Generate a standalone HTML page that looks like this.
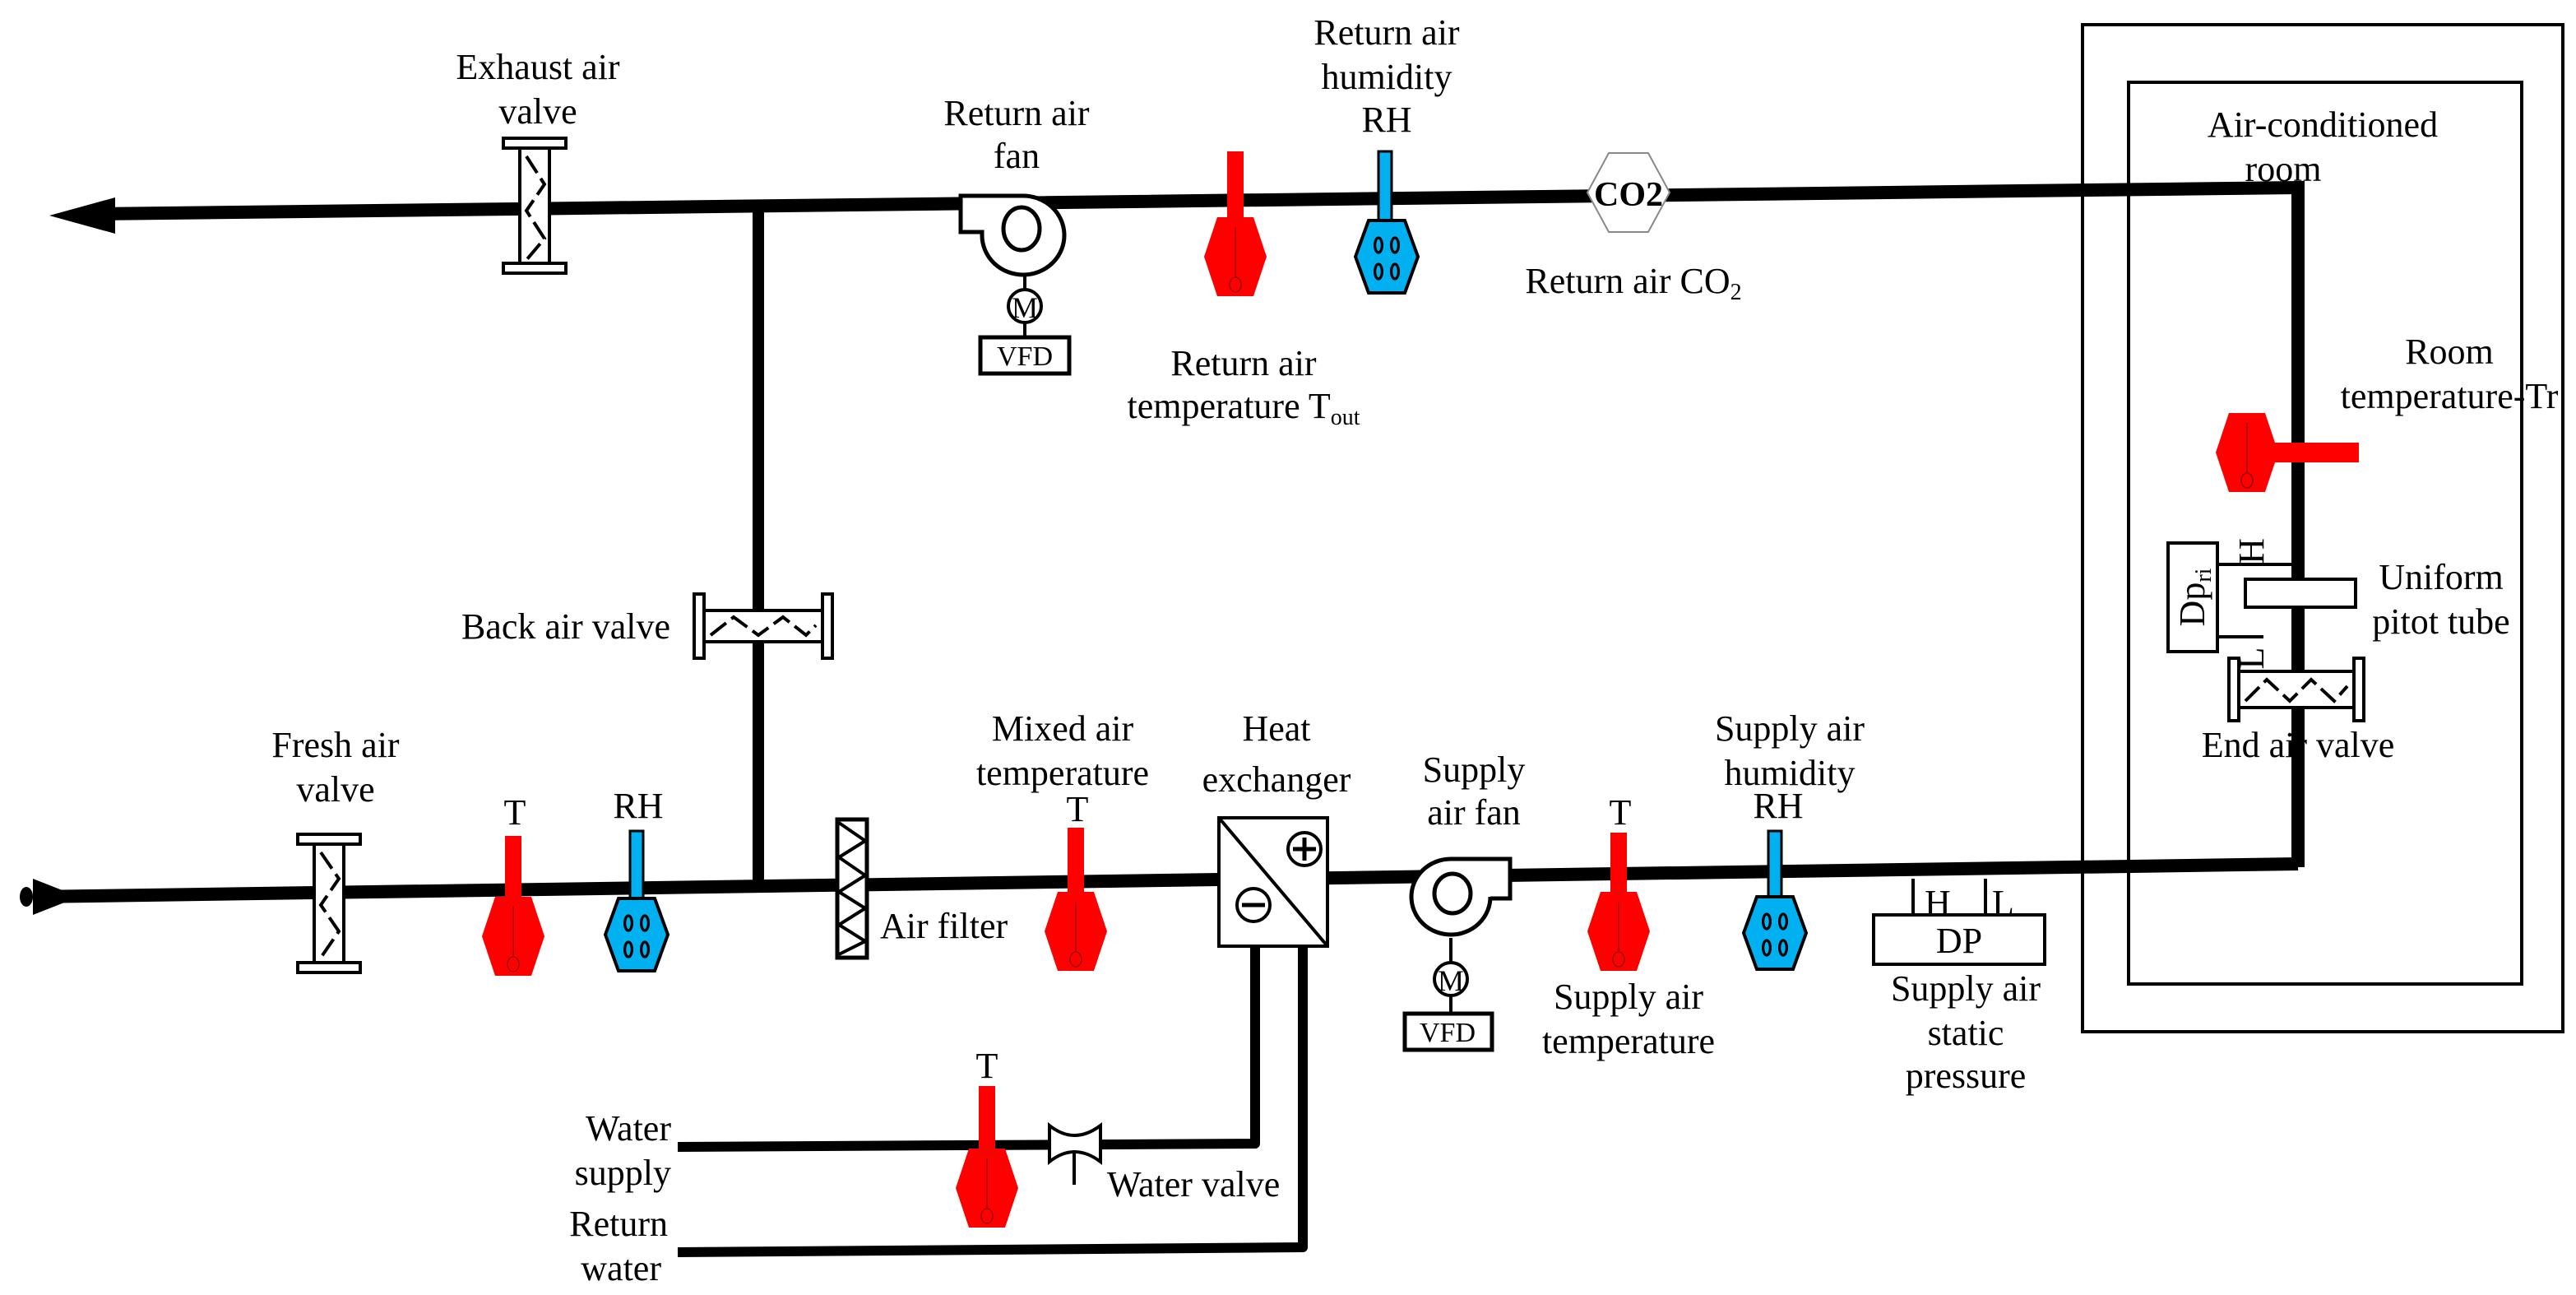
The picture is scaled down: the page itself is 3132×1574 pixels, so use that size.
<!DOCTYPE html>
<html><head><meta charset="utf-8"><style>
html,body{margin:0;padding:0;background:#fff;}
svg{display:block;}
svg text{font-family:"Liberation Serif","Times New Roman",serif;font-size:22px;fill:#000;}
</style></head><body>
<svg width="3132" height="1574" viewBox="0 0 1566 787" xmlns="http://www.w3.org/2000/svg" font-family="Liberation Serif, serif">
<defs>
<g id="rs">
<polygon points="-11,-24 11,-24 19,0 11,24 -11,24 -19,0" fill="#f00"/>
<line x1="0" y1="-18" x2="0" y2="12" stroke="#900" stroke-width="0.8"/>
<ellipse cx="0" cy="17" rx="3.5" ry="4.5" fill="none" stroke="#900" stroke-width="0.8"/>
</g>
<g id="bs">
<polygon points="-11,-22 11,-22 19,0 11,22 -11,22 -19,0" fill="#00b0f0" stroke="#000" stroke-width="2"/>
<ellipse cx="-5" cy="-7" rx="2.2" ry="4.5" fill="none" stroke="#000" stroke-width="1.6"/>
<ellipse cx="5" cy="-7" rx="2.2" ry="4.5" fill="none" stroke="#000" stroke-width="1.6"/>
<ellipse cx="-5" cy="9" rx="2.2" ry="4.5" fill="none" stroke="#000" stroke-width="1.6"/>
<ellipse cx="5" cy="9" rx="2.2" ry="4.5" fill="none" stroke="#000" stroke-width="1.6"/>
</g>
</defs>

<polyline points="60,130 1397,114 1397,527" fill="none" stroke="#000" stroke-width="8"/>
<polygon points="30,131 70,120 70,142" fill="#000"/>
<polyline points="20,545 1397,525" fill="none" stroke="#000" stroke-width="8"/>
<ellipse cx="16" cy="545" rx="4" ry="6" fill="#000"/>
<polygon points="48,545 20,534 20,556" fill="#000"/>
<line x1="461" y1="125" x2="461" y2="540" stroke="#000" stroke-width="7"/>

<polyline points="412,697 763,695 763,575" fill="none" stroke="#000" stroke-width="6" stroke-linejoin="round"/>
<polyline points="412,761 792,758 792,575" fill="none" stroke="#000" stroke-width="6" stroke-linejoin="round"/>

<g stroke="#000" stroke-width="2" fill="#fff">
<rect x="316" y="90" width="18" height="70"/>
<rect x="306" y="84" width="38" height="6"/>
<rect x="306" y="160" width="38" height="6"/>
</g>
<polyline points="320,95 331,112 320,128 331,145 320,158" fill="none" stroke="#000" stroke-width="2" stroke-dasharray="12,4"/>

<g stroke="#000" stroke-width="2" fill="#fff">
<rect x="191" y="513" width="18" height="72"/>
<rect x="181" y="507" width="38" height="6"/>
<rect x="181" y="585" width="38" height="6"/>
</g>
<polyline points="195,518 206,534 195,550 206,566 195,582" fill="none" stroke="#000" stroke-width="2" stroke-dasharray="12,4"/>

<g stroke="#000" stroke-width="2" fill="#fff">
<rect x="428" y="371" width="72" height="19"/>
<rect x="422" y="361" width="6" height="39"/>
<rect x="500" y="361" width="6" height="39"/>
</g>
<polyline points="432,386 446,375 461,386 476,375 490,386 496,380" fill="none" stroke="#000" stroke-width="2" stroke-dasharray="12,4"/>

<g stroke="#000" stroke-width="2" fill="#fff">
<rect x="1361" y="408" width="70" height="22"/>
<rect x="1355" y="400" width="6" height="38"/>
<rect x="1431" y="400" width="6" height="38"/>
</g>
<polyline points="1365,426 1378,413 1392,426 1405,413 1419,426 1427,417" fill="none" stroke="#000" stroke-width="2" stroke-dasharray="12,4"/>

<rect x="509" y="498" width="18" height="84" fill="#fff" stroke="#000" stroke-width="2.5"/>
<polyline points="510,500 526,511 510,521 526,532 510,542 526,552 510,562 526,572 510,580" fill="none" stroke="#000" stroke-width="2"/>

<path d="M584,119 H621 A25,24 0 1 1 597,143 V141 H584 Z" fill="#fff" stroke="#000" stroke-width="2.5"/>
<ellipse cx="621" cy="139" rx="11" ry="13" fill="none" stroke="#000" stroke-width="2.5"/>
<line x1="623" y1="167" x2="623" y2="176" stroke="#000" stroke-width="2"/>
<circle cx="623" cy="186" r="10" fill="#fff" stroke="#000" stroke-width="2"/>
<text x="623" y="193" text-anchor="middle" style="font-size:18px">M</text>
<line x1="623" y1="196" x2="623" y2="205" stroke="#000" stroke-width="2"/>
<rect x="596" y="205" width="54" height="22" fill="#fff" stroke="#000" stroke-width="2.5"/>
<text x="623" y="222" text-anchor="middle" style="font-size:17px">VFD</text>

<path d="M918,522 H882 A24,23 0 1 0 906,545 V546 H918 Z" fill="#fff" stroke="#000" stroke-width="2.5"/>
<ellipse cx="883" cy="543" rx="11" ry="12" fill="none" stroke="#000" stroke-width="2.5"/>
<line x1="882" y1="570" x2="882" y2="585" stroke="#000" stroke-width="2"/>
<circle cx="882" cy="595" r="10" fill="#fff" stroke="#000" stroke-width="2"/>
<text x="882" y="602" text-anchor="middle" style="font-size:18px">M</text>
<line x1="882" y1="605" x2="882" y2="616" stroke="#000" stroke-width="2"/>
<rect x="854" y="616" width="53" height="22" fill="#fff" stroke="#000" stroke-width="2.5"/>
<text x="880" y="633" text-anchor="middle" style="font-size:17px">VFD</text>

<rect x="741" y="497" width="66" height="78" fill="#fff" stroke="#000" stroke-width="2"/>
<line x1="741" y1="497" x2="807" y2="575" stroke="#000" stroke-width="2"/>
<circle cx="793" cy="516" r="10" fill="none" stroke="#000" stroke-width="2"/>
<path d="M786,516 H800 M793,509 V523" stroke="#000" stroke-width="2.5"/>
<circle cx="762" cy="550" r="10" fill="none" stroke="#000" stroke-width="2"/>
<path d="M755,550 H769" stroke="#000" stroke-width="2.5"/>

<path d="M638,684 Q653,696 669,684 V706 Q653,694 638,706 Z" fill="#fff" stroke="#000" stroke-width="2"/>
<line x1="653" y1="699" x2="653" y2="720" stroke="#000" stroke-width="2"/>

<polygon points="978,93 1002,93 1015,117 1002,141 978,141 965,117" fill="#fff" stroke="#888" stroke-width="1"/>
<text x="990" y="125" text-anchor="middle" style="font-size:21px;font-weight:bold">CO2</text>

<rect x="746" y="92" width="10" height="42" fill="#f00"/><use href="#rs" x="751" y="156"/>
<rect x="307" y="508" width="10" height="40" fill="#f00"/><use href="#rs" x="312" y="569"/>
<rect x="649" y="503" width="10" height="42" fill="#f00"/><use href="#rs" x="654" y="566"/>
<rect x="979" y="506" width="10" height="42" fill="#f00"/><use href="#rs" x="984" y="566"/>
<rect x="595" y="660" width="10" height="42" fill="#f00"/><use href="#rs" x="600" y="722"/>
<rect x="1380" y="269" width="54" height="12" fill="#f00"/>
<use href="#rs" x="1366" y="275"/>

<rect x="838" y="92" width="8" height="44" fill="#00b0f0" stroke="#000" stroke-width="1.5"/><use href="#bs" x="843" y="156"/>
<rect x="383" y="505" width="8" height="42" fill="#00b0f0" stroke="#000" stroke-width="1.5"/><use href="#bs" x="387" y="568"/>
<rect x="1075" y="505" width="8" height="42" fill="#00b0f0" stroke="#000" stroke-width="1.5"/><use href="#bs" x="1079" y="567"/>

<rect x="1139" y="556" width="104" height="30" fill="#fff" stroke="#000" stroke-width="2"/>
<text x="1191" y="579" text-anchor="middle">DP</text>
<line x1="1163" y1="534" x2="1163" y2="556" stroke="#000" stroke-width="2"/>
<line x1="1207" y1="534" x2="1207" y2="556" stroke="#000" stroke-width="2"/>
<text x="1170" y="556">H</text>
<text x="1211" y="556">L</text>

<rect x="1266" y="15" width="292" height="612" fill="none" stroke="#000" stroke-width="2"/>
<rect x="1294" y="50" width="239" height="548" fill="none" stroke="#000" stroke-width="2"/>
<rect x="1318" y="330" width="30" height="66" fill="#fff" stroke="#000" stroke-width="2"/>
<text transform="translate(1340,363) rotate(-90)" text-anchor="middle">Dp<tspan style="font-size:14px" dy="4">ri</tspan></text>
<line x1="1348" y1="343" x2="1396" y2="343" stroke="#000" stroke-width="2"/>
<line x1="1348" y1="387" x2="1376" y2="387" stroke="#000" stroke-width="2"/>
<text transform="translate(1376,335) rotate(-90)" text-anchor="middle">H</text>
<text transform="translate(1376,400) rotate(-90)" text-anchor="middle">L</text>
<rect x="1365" y="352" width="67" height="17" fill="#fff" stroke="#000" stroke-width="2"/>

<g text-anchor="middle">
<text x="327" y="48">Exhaust air</text><text x="327" y="75">valve</text>
<text x="618" y="76">Return air</text><text x="618" y="102">fan</text>
<text x="843" y="27">Return air</text><text x="843" y="54">humidity</text><text x="843" y="80">RH</text>
<text x="993" y="178">Return air CO<tspan style="font-size:14px" dy="4">2</tspan></text>
<text x="756" y="228">Return air</text><text x="756" y="254">temperature T<tspan style="font-size:14px" dy="4">out</tspan></text>
<text x="1412" y="83">Air-conditioned</text><text x="1388" y="110">room</text>
<text x="1489" y="221">Room</text><text x="1489" y="248">temperature-Tr</text>
<text x="1484" y="358">Uniform</text><text x="1484" y="385">pitot tube</text>
<text x="1397" y="460">End air valve</text>
<text x="344" y="388">Back air valve</text>
<text x="204" y="460">Fresh air</text><text x="204" y="487">valve</text>
<text x="313" y="501">T</text>
<text x="388" y="497">RH</text>
<text x="646" y="450">Mixed air</text><text x="646" y="477">temperature</text>
<text x="655" y="499">T</text>
<text x="776" y="450">Heat</text><text x="776" y="481">exchanger</text>
<text x="896" y="475">Supply</text><text x="896" y="501">air fan</text>
<text x="985" y="501">T</text>
<text x="990" y="613">Supply air</text><text x="990" y="640">temperature</text>
<text x="1088" y="450">Supply air</text><text x="1088" y="477">humidity</text>
<text x="1081" y="497">RH</text>
<text x="1195" y="608">Supply air</text><text x="1195" y="635">static</text><text x="1195" y="661">pressure</text>
<text x="600" y="655">T</text>
</g>
<text x="535" y="570">Air filter</text>
<text x="673" y="727">Water valve</text>
<g text-anchor="end">
<text x="408" y="693">Water</text><text x="408" y="720">supply</text>
<text x="406" y="751">Return</text><text x="402" y="778">water</text>
</g>
</svg>
</body></html>
